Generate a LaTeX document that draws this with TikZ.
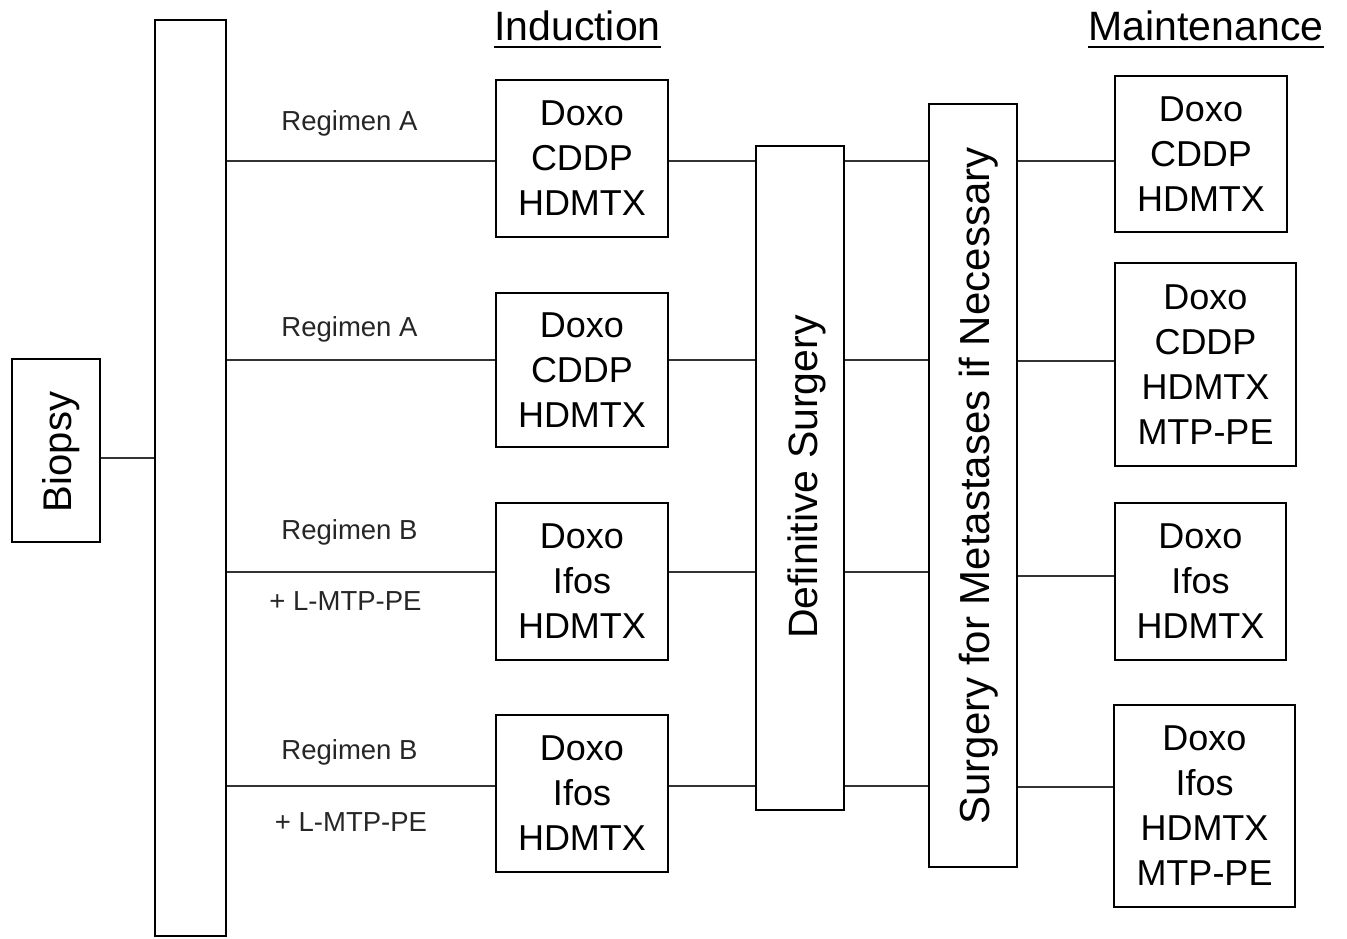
\documentclass[tikz,border=0pt]{standalone}
\usepackage{fontspec}
\setmainfont{Liberation Sans}
\begin{document}
\begin{tikzpicture}[x=1pt,y=-1pt,
  box/.style={draw, line width=2.8pt, inner sep=0pt, align=center, font=\fontsize{36}{45}\selectfont},
  barbox/.style={draw, line width=2.8pt, inner sep=0pt},
  conn/.style={line width=2pt, draw=black!80},
  lbl/.style={anchor=base, inner sep=0pt, font=\fontsize{27.5}{33}\selectfont, text=black!85},
  vtext/.style={anchor=base, rotate=90, inner sep=0pt},
  ttl/.style={anchor=base, inner sep=0pt, font=\fontsize{41}{49}\selectfont},
  uline/.style={line width=2.4pt}]
\useasboundingbox (0,0) rectangle (1347,938);

% level coordinates
\coordinate (y0) at (0,458);
\coordinate (y1) at (0,161);
\coordinate (y2) at (0,359.5);
\coordinate (y3) at (0,572);
\coordinate (y4) at (0,786);
\coordinate (z1) at (0,161);
\coordinate (z2) at (0,361);
\coordinate (z3) at (0,576);
\coordinate (z4) at (0,787);

% biopsy and split bar
\node[barbox, minimum width=88pt, minimum height=183pt] (bio) at (56,450.5) {};
\node[vtext, font=\fontsize{40}{48}\selectfont] (biot) at (71,452) {Biopsy};
\node[barbox, minimum width=71pt, minimum height=916pt] (split) at (190.5,478) {};

% induction
\node[box, minimum width=172pt, minimum height=157pt] (i1) at (582,158.5) {Doxo\\CDDP\\HDMTX};
\node[box, minimum width=172pt, minimum height=154pt] (i2) at (582,370) {Doxo\\CDDP\\HDMTX};
\node[box, minimum width=172pt, minimum height=157pt] (i3) at (582,581.5) {Doxo\\Ifos\\HDMTX};
\node[box, minimum width=172pt, minimum height=157pt] (i4) at (582,793.5) {Doxo\\Ifos\\HDMTX};

% surgeries
\node[barbox, minimum width=88pt, minimum height=664pt] (ds) at (800,478) {};
\node[vtext, font=\fontsize{41}{49}\selectfont] (dst) at (817,477) {Definitive Surgery};
\node[barbox, minimum width=88pt, minimum height=763pt] (sfm) at (973,485.5) {};
\node[vtext, font=\fontsize{42}{50}\selectfont] (sfmt) at (989,486) {Surgery for Metastases if Necessary};

% maintenance
\node[box, minimum width=172pt, minimum height=156pt] (m1) at (1201,154) {Doxo\\CDDP\\HDMTX};
\node[box, minimum width=181pt, minimum height=203pt] (m2) at (1205.5,364.5) {Doxo\\CDDP\\HDMTX\\MTP-PE};
\node[box, minimum width=171pt, minimum height=157pt] (m3) at (1200.5,581.5) {Doxo\\Ifos\\HDMTX};
\node[box, minimum width=181pt, minimum height=202pt] (m4) at (1204.5,806) {Doxo\\Ifos\\HDMTX\\MTP-PE};

% connectors
\draw[conn] (bio.east |- y0) -- (split.west |- y0);
\foreach \k in {1,...,4} {
  \draw[conn] (split.east |- y\k) -- (i\k.west |- y\k);
  \draw[conn] (i\k.east |- y\k) -- (ds.west |- y\k);
  \draw[conn] (ds.east |- y\k) -- (sfm.west |- y\k);
  \draw[conn] (sfm.east |- z\k) -- (m\k.west |- z\k);
}

% labels
\node[lbl] (la1) at (349.5,130) {Regimen A};
\node[lbl] (la2) at (349.5,336) {Regimen A};
\node[lbl] (lb1) at (349.5,539) {Regimen B};
\node[lbl] (lc1) at (345.5,610) {+ L-MTP-PE};
\node[lbl] (lb2) at (349.5,759) {Regimen B};
\node[lbl] (lc2) at (351,831) {+ L-MTP-PE};

% titles
\node[ttl] (tind) at (577.5,40) {Induction};
\draw[uline] ([yshift=-7pt]tind.base west) -- ([yshift=-7pt]tind.base east);
\node[ttl] (tmai) at (1206,40) {Maintenance};
\draw[uline] ([yshift=-7pt]tmai.base west) -- ([yshift=-7pt]tmai.base east);
\end{tikzpicture}
\end{document}
